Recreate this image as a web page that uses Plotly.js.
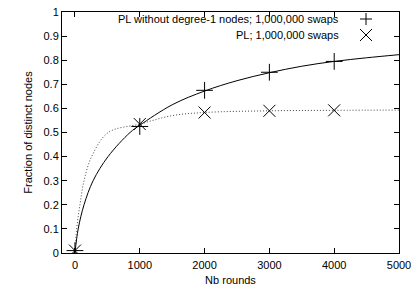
<!DOCTYPE html>
<html><head><meta charset="utf-8">
<script src="https://cdn.plot.ly/plotly-3.0.1.min.js"></script>
<style>html,body{margin:0;padding:0;background:#fff}#c{width:414px;height:290px}</style>
</head><body><div id="c"></div>
<script>
// measured points
const roundsPts = [0, 1000, 2000, 3000, 4000];
const plNoDeg1 = [0.01, 0.525, 0.675, 0.75, 0.795];
const plAll = [0.01, 0.535, 0.583, 0.59, 0.592];
// fitted curves
const fitNoDeg1X = [0, 50, 140, 280, 510, 850, 1000, 1500, 2000, 2500, 3000, 3500, 4000, 4500, 5000];
const fitNoDeg1Y = [0, 0.1, 0.2, 0.3, 0.4, 0.5, 0.53, 0.615, 0.672, 0.715, 0.748, 0.775, 0.795, 0.81, 0.823];
const fitAllX = [0, 26, 77, 140, 257, 514, 1000, 1500, 2000, 3000, 4000, 5000];
const fitAllY = [0, 0.1, 0.2, 0.3, 0.4, 0.5, 0.535, 0.57, 0.583, 0.59, 0.592, 0.593];
const legendLabels = ["PL without degree-1 nodes; 1,000,000 swaps", "PL; 1,000,000 swaps"];

const font = {family: "Liberation Sans, Arial, sans-serif", size: 11, color: "#000"};
const traces = [
  {x: fitNoDeg1X, y: fitNoDeg1Y, mode: "lines", line: {color: "#000", width: 1, shape: "spline", smoothing: 1}, hoverinfo: "skip", showlegend: false},
  {x: fitAllX, y: fitAllY, mode: "lines", line: {color: "#444", width: 1, dash: "1px,2px", shape: "spline", smoothing: 1}, hoverinfo: "skip", showlegend: false},
  {x: roundsPts, y: plNoDeg1, mode: "markers", marker: {symbol: "cross-thin", size: 12, line: {color: "#000", width: 1}}, showlegend: false},
  {x: roundsPts, y: plAll, mode: "markers", marker: {symbol: "x-thin", size: 12, line: {color: "#000", width: 1}}, showlegend: false}
];
function px2paperX(p){return (p-62)/(399-62);}
function px2paperY(p){return (253-p)/(253-12);}
const shapes = [];
const cx = 366, y1 = 19, y2 = 35, h = 6;
shapes.push({type:"line", xref:"paper", yref:"paper", x0:px2paperX(cx-h), x1:px2paperX(cx+h), y0:px2paperY(y1), y1:px2paperY(y1), line:{color:"#000", width:1}});
shapes.push({type:"line", xref:"paper", yref:"paper", x0:px2paperX(cx), x1:px2paperX(cx), y0:px2paperY(y1-h), y1:px2paperY(y1+h), line:{color:"#000", width:1}});
shapes.push({type:"line", xref:"paper", yref:"paper", x0:px2paperX(cx-h), x1:px2paperX(cx+h), y0:px2paperY(y2-h), y1:px2paperY(y2+h), line:{color:"#000", width:1}});
shapes.push({type:"line", xref:"paper", yref:"paper", x0:px2paperX(cx-h), x1:px2paperX(cx+h), y0:px2paperY(y2+h), y1:px2paperY(y2-h), line:{color:"#000", width:1}});
const annotations = [
  {text: legendLabels[0], xref:"paper", yref:"paper", x: px2paperX(341), y: px2paperY(y1), xanchor:"right", yanchor:"middle", showarrow:false, font: font},
  {text: legendLabels[1], xref:"paper", yref:"paper", x: px2paperX(341), y: px2paperY(y2), xanchor:"right", yanchor:"middle", showarrow:false, font: font}
];
const axisCommon = {showgrid:false, zeroline:false, showline:true, linecolor:"#000", linewidth:1, mirror:"allticks", ticks:"inside", ticklen:5, tickcolor:"#000", tickwidth:1, tickfont: font};
const layout = {
  width: 414, height: 290,
  margin: {l: 62, r: 15, t: 12, b: 37},
  paper_bgcolor: "#fff", plot_bgcolor: "#fff",
  font: font,
  showlegend: false,
  xaxis: Object.assign({}, axisCommon, {range: [-200, 5000], tickvals: [0,1000,2000,3000,4000,5000], ticklabelstandoff: 2, title: {text: "Nb rounds", font: font, standoff: 6}}),
  yaxis: Object.assign({}, axisCommon, {range: [0, 1], tickvals: [0,0.1,0.2,0.3,0.4,0.5,0.6,0.7,0.8,0.9,1], ticktext: ["0","0.1","0.2","0.3","0.4","0.5","0.6","0.7","0.8","0.9","1"], title: {text: "Fraction of distinct nodes", font: font, standoff: 8}}),
  shapes: shapes,
  annotations: annotations
};
Plotly.newPlot("c", traces, layout, {staticPlot: true, displayModeBar: false});
</script></body></html>
